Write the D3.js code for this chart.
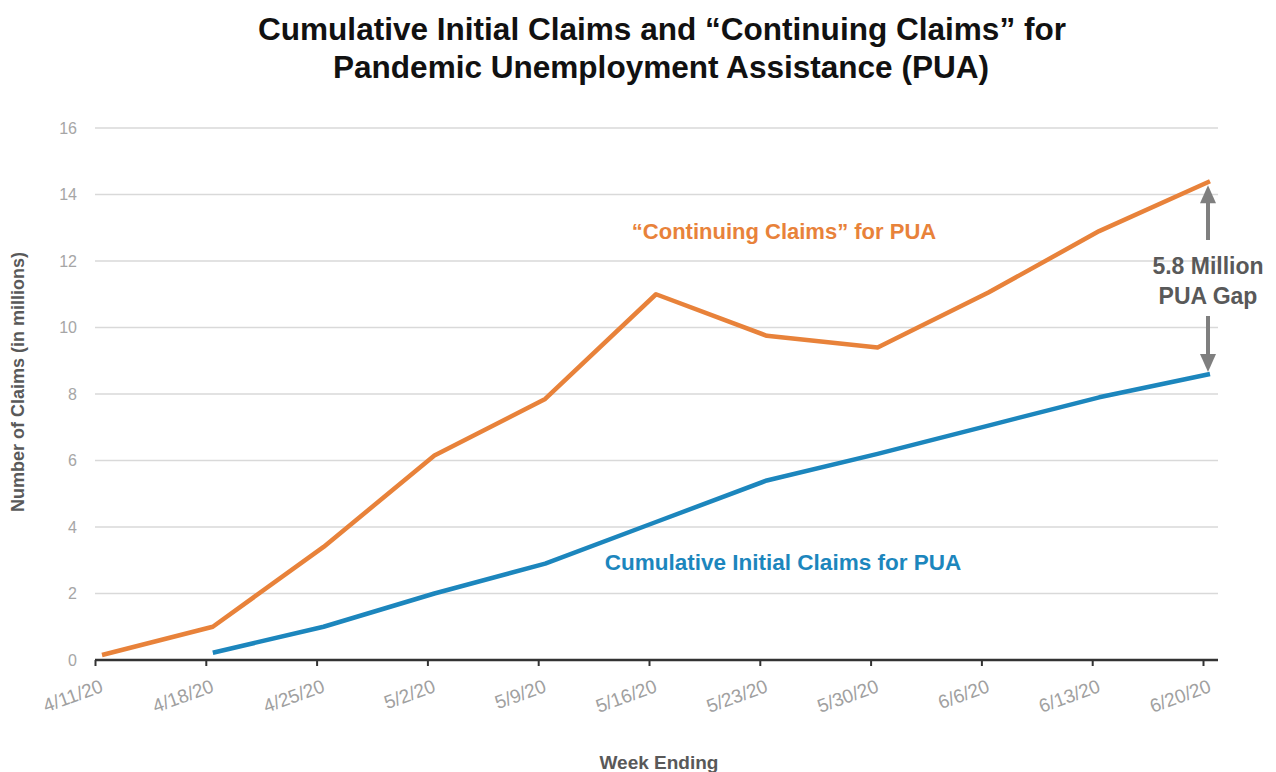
<!DOCTYPE html>
<html>
<head>
<meta charset="utf-8">
<script src="https://cdn.jsdelivr.net/npm/d3@7"></script>
<style>
  html, body { margin: 0; padding: 0; background: #fff; }
  svg { display: block; font-family: "Liberation Sans", Arial, sans-serif; }
</style>
</head>
<body>
<svg id="chart" width="1276" height="772"></svg>
<script>
// Week-ending dates on the x axis
const weeks = ["4/11/20", "4/18/20", "4/25/20", "5/2/20", "5/9/20", "5/16/20",
               "5/23/20", "5/30/20", "6/6/20", "6/13/20", "6/20/20"];
// Continuing claims for PUA (millions)
const continuingClaims = [0.15, 1.0, 3.4, 6.15, 7.85, 11.0, 9.75, 9.4, 11.05, 12.9, 14.4];
// Cumulative initial claims for PUA (millions); no value for the first week
const initialClaims = [null, 0.22, 1.0, 2.0, 2.9, 4.15, 5.4, 6.2, 7.05, 7.9, 8.6];
const yTicks = [0, 2, 4, 6, 8, 10, 12, 14, 16];

const svg = d3.select("#chart");
const plotLeft = 95, plotRight = 1218, plotBottom = 660, plotTop = 128;

const x = d3.scalePoint().domain(weeks).range([95, 1203]);
const ptShift = 7; // data points sit slightly right of each tick mark
const y = d3.scaleLinear().domain([0, 16]).range([plotBottom, plotTop]);

// Title
const title = svg.append("text")
  .attr("text-anchor", "middle")
  .attr("font-weight", "bold").attr("font-size", 30.5).attr("fill", "#111");
title.append("tspan").attr("x", 662).attr("y", 40)
  .attr("textLength", 808).attr("lengthAdjust", "spacingAndGlyphs")
  .text("Cumulative Initial Claims and \u201cContinuing Claims\u201d for");
title.append("tspan").attr("x", 661).attr("y", 78)
  .attr("textLength", 656).attr("lengthAdjust", "spacingAndGlyphs")
  .text("Pandemic Unemployment Assistance (PUA)");

// Horizontal gridlines
svg.append("g").selectAll("line").data(yTicks.filter(d => d > 0)).join("line")
  .attr("x1", plotLeft).attr("x2", plotRight)
  .attr("y1", d => y(d)).attr("y2", d => y(d))
  .attr("stroke", "#d9d9d9").attr("stroke-width", 1.5);

// Y axis tick labels
const yAxis = svg.append("g").attr("transform", `translate(${plotLeft - 8},0)`)
  .call(d3.axisLeft(y).tickValues(yTicks).tickSize(0).tickPadding(10));
yAxis.select(".domain").remove();
yAxis.selectAll("text").attr("font-size", 16).attr("fill", "#a6a6a6")
  .attr("font-family", "Liberation Sans, Arial, sans-serif");

// X axis
const xAxis = svg.append("g").attr("transform", `translate(0,${plotBottom})`)
  .call(d3.axisBottom(x).tickSize(6).tickPadding(10));
xAxis.select(".domain").attr("d", `M${plotLeft},0H${plotRight}`)
  .attr("stroke", "#333").attr("stroke-width", 2.5);
xAxis.selectAll(".tick line").attr("stroke", "#333").attr("stroke-width", 2);
xAxis.selectAll("text")
  .attr("font-size", 19).attr("fill", "#a0a0a0")
  .attr("font-family", "Liberation Sans, Arial, sans-serif")
  .attr("text-anchor", "end")
  .attr("dy", "0.35em")
  .attr("transform", "translate(1,10) rotate(-20)");

// Axis titles
svg.append("text")
  .attr("transform", `translate(24,382) rotate(-90)`)
  .attr("text-anchor", "middle").attr("font-weight", "bold")
  .attr("font-size", 18).attr("fill", "#595959")
  .text("Number of Claims (in millions)");
svg.append("text")
  .attr("x", 659).attr("y", 769).attr("text-anchor", "middle")
  .attr("font-weight", "bold").attr("font-size", 19).attr("fill", "#595959")
  .text("Week Ending");

// Series lines
const line = d3.line()
  .defined(d => d.v !== null)
  .x(d => x(d.w) + ptShift)
  .y(d => y(d.v));

const series = [
  { values: continuingClaims, color: "#e8823a" },
  { values: initialClaims, color: "#1c86bd" }
];
svg.append("g").selectAll("path").data(series).join("path")
  .attr("d", s => line(weeks.map((w, i) => ({ w, v: s.values[i] }))))
  .attr("fill", "none").attr("stroke", s => s.color)
  .attr("stroke-width", 4.5).attr("stroke-linejoin", "round");

// Series labels
svg.append("text").attr("x", 784).attr("y", 239).attr("text-anchor", "middle")
  .attr("font-weight", "bold").attr("font-size", 22).attr("fill", "#e8823a")
  .text("\u201cContinuing Claims\u201d for PUA");
svg.append("text").attr("x", 783).attr("y", 570).attr("text-anchor", "middle")
  .attr("font-weight", "bold").attr("font-size", 22.5).attr("fill", "#1c86bd")
  .text("Cumulative Initial Claims for PUA");

// Gap annotation between the last two values
const lastW = weeks[weeks.length - 1];
const gx = x(lastW) + 5;
const yHigh = y(continuingClaims[continuingClaims.length - 1]);
const yLow = y(initialClaims[initialClaims.length - 1]);
const gap = continuingClaims[continuingClaims.length - 1] - initialClaims[initialClaims.length - 1];
const arrowColor = "#7f7f7f";

svg.append("line").attr("x1", gx).attr("x2", gx)
  .attr("y1", yHigh + 18).attr("y2", 240)
  .attr("stroke", arrowColor).attr("stroke-width", 4);
svg.append("path")
  .attr("d", `M${gx},${yHigh + 4}L${gx - 8},${yHigh + 22}L${gx + 8},${yHigh + 22}Z`)
  .attr("fill", arrowColor);
svg.append("line").attr("x1", gx).attr("x2", gx)
  .attr("y1", 316).attr("y2", yLow - 16)
  .attr("stroke", arrowColor).attr("stroke-width", 4);
svg.append("path")
  .attr("d", `M${gx},${yLow - 2}L${gx - 8},${yLow - 20}L${gx + 8},${yLow - 20}Z`)
  .attr("fill", arrowColor);

const gapLabel = svg.append("text").attr("text-anchor", "middle")
  .attr("font-weight", "bold").attr("font-size", 23).attr("fill", "#595959");
gapLabel.append("tspan").attr("x", gx).attr("y", 274).text(`${gap.toFixed(1)} Million`);
gapLabel.append("tspan").attr("x", gx).attr("y", 304).text("PUA Gap");
</script>
</body>
</html>
